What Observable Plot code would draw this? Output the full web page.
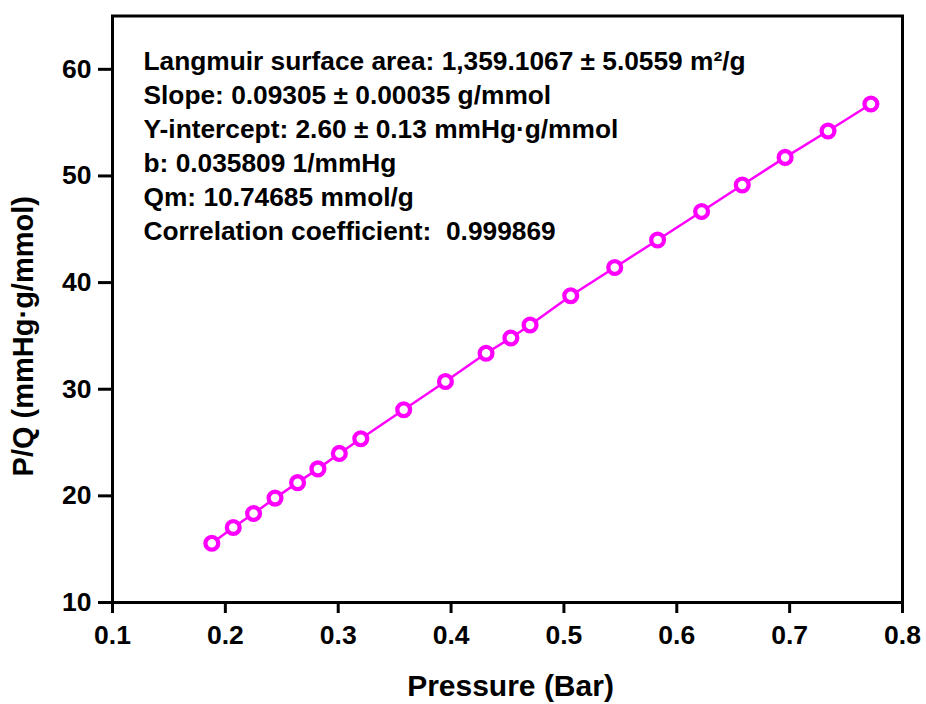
<!DOCTYPE html>
<html>
<head>
<meta charset="utf-8">
<script src="https://cdn.jsdelivr.net/npm/d3@7"></script>
<script src="https://cdn.jsdelivr.net/npm/@observablehq/plot@0.6"></script>
<style>
  html, body { margin: 0; padding: 0; background: #fff; }
  #chart svg { display: block; }
</style>
</head>
<body>
<div id="chart"></div>
<script>
// Data
const pressure = [0.188, 0.207, 0.225, 0.244, 0.264, 0.282, 0.301, 0.320, 0.358, 0.395, 0.431,
                  0.453, 0.470, 0.506, 0.545, 0.583, 0.622, 0.658, 0.696, 0.734, 0.772];
const pq = [15.55, 17.03, 18.34, 19.79, 21.24, 22.53, 23.98, 25.36, 28.07, 30.72, 33.37,
            34.81, 36.03, 38.77, 41.42, 44.00, 46.67, 49.15, 51.74, 54.22, 56.75];
const xTicks = [0.1, 0.2, 0.3, 0.4, 0.5, 0.6, 0.7, 0.8];
const yTicks = [10, 20, 30, 40, 50, 60];
const annotationLines = [
  "Langmuir surface area: 1,359.1067 \u00b1 5.0559 m\u00b2/g",
  "Slope: 0.09305 \u00b1 0.00035 g/mmol",
  "Y-intercept: 2.60 \u00b1 0.13 mmHg\u00b7g/mmol",
  "b: 0.035809 1/mmHg",
  "Qm: 10.74685 mmol/g",
  "Correlation coefficient:  0.999869"
];
const xLabel = "Pressure (Bar)";
const yLabel = "P/Q (mmHg\u00b7g/mmol)";

const data = pressure.map((p, i) => ({p, q: pq[i]}));
const font = "'Liberation Sans', Arial, Helvetica, sans-serif";
const magenta = "#ff00ff";
const fx = d3.format(".1f");
const fy = d3.format("d");

const chart = Plot.plot({
  width: 926,
  height: 704,
  marginLeft: 112,
  marginRight: 24,
  marginTop: 15.5,
  marginBottom: 102,
  style: {fontFamily: font, fontWeight: "bold", fontSize: "26px", background: "#fff", color: "#000"},
  x: {domain: [0.1, 0.8]},
  y: {domain: [10, 65]},
  marks: [
    Plot.axisX({ticks: xTicks, tickSize: 11, strokeWidth: 3, tickFormat: () => "", label: null}),
    Plot.axisY({ticks: yTicks, tickSize: 14, strokeWidth: 3, tickFormat: () => "", label: null}),
    Plot.text(xTicks, {x: d => d, text: d => fx(d), frameAnchor: "bottom", lineAnchor: "top",
                       dy: 23, fontSize: 26.5, fontWeight: "bold", fill: "#000"}),
    Plot.text(yTicks, {y: d => d, text: d => fy(d), frameAnchor: "left", textAnchor: "end",
                       lineAnchor: "middle", dx: -21, fontSize: 26.5, fontWeight: "bold", fill: "#000"}),
    Plot.line(data, {x: "p", y: "q", stroke: magenta, strokeWidth: 2.5}),
    Plot.dot(data, {x: "p", y: "q", r: 6.4, stroke: magenta, strokeWidth: 4.3, fill: "#fff"}),
    Plot.frame({stroke: "#000", strokeWidth: 3}),
    Plot.text([annotationLines.join("\n")], {
      frameAnchor: "top-left", textAnchor: "start", lineAnchor: "top",
      dx: 31, dy: 30.3, fontSize: 26.3, lineHeight: 34 / 26.3, fontWeight: "bold", fill: "#000"
    }),
    Plot.text([xLabel], {frameAnchor: "bottom", textAnchor: "middle", lineAnchor: "middle", dx: 3, dy: 84,
                         fontSize: 30, fontWeight: "bold", fill: "#000"}),
    Plot.text([yLabel], {frameAnchor: "left", textAnchor: "middle", lineAnchor: "middle", rotate: -90,
                         dx: -88.5, dy: 27, fontSize: 29, fontWeight: "bold", fill: "#000"})
  ]
});
document.getElementById("chart").appendChild(chart);
</script>
</body>
</html>
